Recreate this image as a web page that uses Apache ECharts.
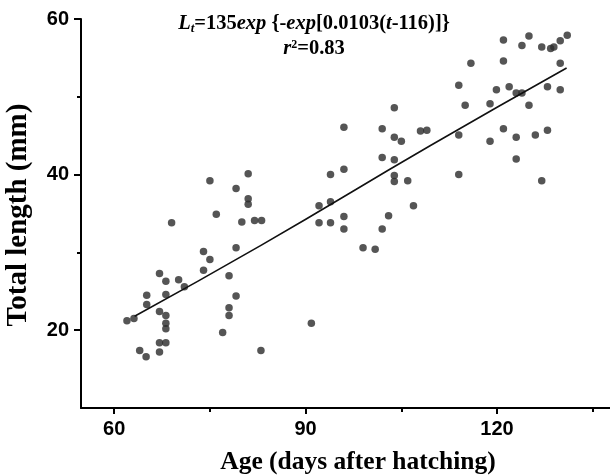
<!DOCTYPE html>
<html><head><meta charset="utf-8">
<script src="https://cdn.jsdelivr.net/npm/echarts@6/dist/echarts.min.js"></script>
<style>html,body{margin:0;padding:0;background:#fff}#c{width:610px;height:475px}</style>
</head><body><div id="c"></div>
<script>
// Age (days after hatching) of each fish
const ages = [121.0,125.0,123.9,127.0,128.9,128.4,129.9,131.0,129.9,115.9,121.0,114.0,119.9,121.9,123.0,123.9,127.9,129.9,115.0,118.9,125.0,114.0,121.0,118.9,123.0,126.0,127.9,123.0,114.0,127.0,
  103.9,96.0,102.0,103.9,105.0,108.0,109.0,102.0,103.9,103.9,103.9,106.0,106.9,93.9,96.0,92.1,93.9,92.1,93.9,96.0,96.0,103.0,102.0,99.0,100.9,90.9,
  81.0,75.0,79.1,81.0,81.0,76.0,69.0,80.0,82.0,83.1,74.0,75.0,79.1,74.0,78.0,67.1,68.1,70.1,71.0,65.1,68.1,79.1,65.1,78.0,78.0,67.1,68.1,68.1,68.1,62.0,63.1,67.1,68.1,77.0,64.0,65.0,67.1,83.0];
// Total length (mm) of each fish
const lengths = [57.3,57.8,56.6,56.4,56.4,56.2,57.2,57.9,54.3,54.3,54.6,51.5,50.9,51.3,50.5,50.5,51.3,50.9,48.9,49.1,48.9,45.1,45.9,44.3,44.8,45.1,45.7,42.0,40.0,39.2,
  48.6,46.1,45.9,44.8,44.3,45.6,45.7,42.2,41.9,39.9,39.1,39.2,36.0,40.0,40.7,36.0,36.5,33.8,33.8,34.6,33.0,34.7,33.0,30.6,30.4,20.9,
  40.1,39.2,38.2,36.9,36.2,34.9,33.8,33.9,34.1,34.1,30.1,29.1,30.6,27.7,27.0,27.3,26.3,26.5,25.6,24.5,24.6,24.4,23.3,22.9,21.9,22.4,21.9,20.9,20.2,21.2,21.5,18.4,18.4,19.7,17.4,16.6,17.2,17.4];
// Fitted growth curve
const fitAges = [63.2, 83.0, 109.5, 130.9];
const fitLengths = [21.8, 30.9, 43.7, 53.7];
// Tick values
const xMajorTicks = [60, 90, 120];
const xMinorTicks = [75, 105, 135];
const yMajorTicks = [20, 40, 60];
const yMinorTicks = [30, 50];

const chart = echarts.init(document.getElementById('c'), null, {renderer: 'canvas'});
const axisLineStyle = {color: '#000', width: 2};
const labelStyle = {color: '#000', fontFamily: 'Liberation Sans', fontWeight: 'bold', fontSize: 20};
const serif = 'Liberation Serif';

chart.setOption({
  animation: false,
  backgroundColor: '#fff',
  grid: {left: 81, right: 0, top: 19, bottom: 67, containLabel: false},
  xAxis: [{
    type: 'value', min: 54.8, max: 137.7, position: 'bottom',
    axisLine: {show: true, onZero: false, lineStyle: axisLineStyle},
    axisTick: {show: true, customValues: xMajorTicks, length: 6, lineStyle: {color: '#000', width: 2}},
    axisLabel: {show: true, customValues: xMajorTicks, margin: 11, ...labelStyle},
    splitLine: {show: false}
  }, {
    type: 'value', min: 54.8, max: 137.7, position: 'bottom', offset: 0,
    axisLine: {show: false, onZero: false},
    axisTick: {show: true, customValues: xMinorTicks, length: 4, lineStyle: {color: '#000', width: 2}},
    axisLabel: {show: false},
    splitLine: {show: false}
  }],
  yAxis: [{
    type: 'value', min: 10, max: 60, position: 'left',
    axisLine: {show: true, onZero: false, lineStyle: axisLineStyle},
    axisTick: {show: true, customValues: yMajorTicks, length: 7, lineStyle: {color: '#000', width: 2}},
    axisLabel: {show: true, customValues: yMajorTicks, margin: 12, ...labelStyle},
    splitLine: {show: false}
  }, {
    type: 'value', min: 10, max: 60, position: 'left', offset: 0,
    axisLine: {show: false, onZero: false},
    axisTick: {show: true, customValues: yMinorTicks, length: 4, lineStyle: {color: '#000', width: 2}},
    axisLabel: {show: false},
    splitLine: {show: false}
  }],
  series: [{
    type: 'scatter', xAxisIndex: 0, yAxisIndex: 0,
    data: ages.map((a, i) => [a, lengths[i]]),
    symbol: 'circle', symbolSize: 7.5,
    itemStyle: {color: '#2b2b2b'}
  }, {
    type: 'line', xAxisIndex: 0, yAxisIndex: 0,
    data: fitAges.map((a, i) => [a, fitLengths[i]]),
    showSymbol: false, smooth: true,
    lineStyle: {color: '#111', width: 1.6}
  }],
  graphic: [{
    type: 'text', x: 314, y: 24,
    style: {
      text: '{i|L}{sub|t}=135{i|exp} {-{i|exp}[0.0103({i|t}-116)]}',
      font: 'bold 20.5px "Liberation Serif"', fill: '#000',
      textAlign: 'center', textVerticalAlign: 'middle',
      rich: {
        i: {fontFamily: serif, fontWeight: 'bold', fontStyle: 'italic', fontSize: 20.5},
        sub: {fontFamily: serif, fontWeight: 'bold', fontStyle: 'italic', fontSize: 13, padding: [10, 0, 0, 0]}
      }
    }
  }, {
    type: 'text', x: 314, y: 49,
    style: {
      text: '{i|r}{sup|2}=0.83',
      font: 'bold 20.5px "Liberation Serif"', fill: '#000',
      textAlign: 'center', textVerticalAlign: 'middle',
      rich: {
        i: {fontFamily: serif, fontWeight: 'bold', fontStyle: 'italic', fontSize: 20.5},
        sup: {fontFamily: serif, fontWeight: 'bold', fontSize: 12, padding: [0, 0, 8, 0]}
      }
    }
  }, {
    type: 'text', x: 358, y: 462,
    style: {text: 'Age (days after hatching)', font: 'bold 25.5px "Liberation Serif"', fill: '#000', textAlign: 'center', textVerticalAlign: 'middle'}
  }, {
    type: 'text', x: 19, y: 215, rotation: Math.PI / 2,
    style: {text: 'Total length (mm)', font: 'bold 29px "Liberation Serif"', fill: '#000', textAlign: 'center', textVerticalAlign: 'middle'}
  }]
});
</script></body></html>
